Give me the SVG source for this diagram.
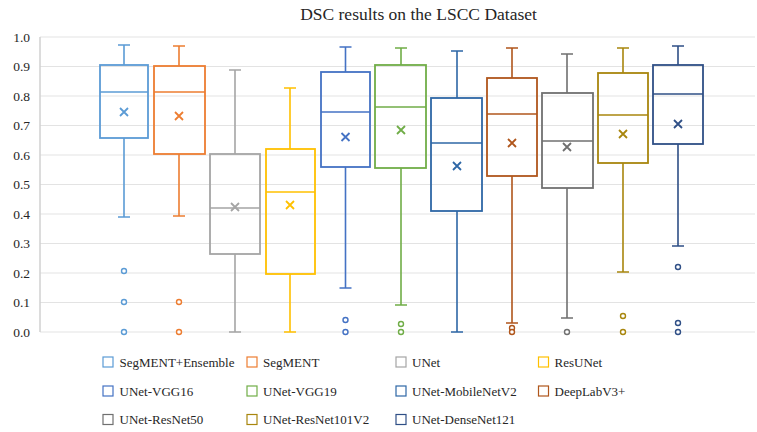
<svg xmlns="http://www.w3.org/2000/svg" width="757" height="432" viewBox="0 0 757 432">
<defs>
<style>
text{font-family:"Liberation Serif","Times New Roman",serif;fill:#262626}
.title{font-size:17.5px;text-anchor:middle}
.ylab{font-size:13.5px;text-anchor:end}
.leg{font-size:13px}
.grid{stroke:#e3e3e3;stroke-width:1.2}
.axis{stroke:#d0d0d0;stroke-width:1.5}
.box{fill:none;stroke-width:1.8}
.ln{fill:none;stroke-width:1.6}
.out{fill:#fff;stroke-width:1.4}
.mk{fill:none;stroke-width:1.8}
.sq{fill:#fff;stroke-width:1.2}
.c1{stroke:#5B9BD5}.c2{stroke:#ED7D31}.c3{stroke:#A5A5A5}.c4{stroke:#FFC000}
.c5{stroke:#4472C4}.c6{stroke:#70AD47}.c7{stroke:#2E67A6}.c8{stroke:#B0561C}
.c9{stroke:#707070}.c10{stroke:#A8860E}.c11{stroke:#2F4F86}
</style>
<path id="x" d="M-4,-4L4,4M-4,4L4,-4"/>
</defs>
<rect width="757" height="432" fill="#fff"/>
<text class="title" x="418.5" y="20">DSC results on the LSCC Dataset</text>
<g id="grid">
<line class="grid" x1="40" y1="37" x2="755" y2="37"/>
<line class="grid" x1="40" y1="66.5" x2="755" y2="66.5"/>
<line class="grid" x1="40" y1="96" x2="755" y2="96"/>
<line class="grid" x1="40" y1="125.5" x2="755" y2="125.5"/>
<line class="grid" x1="40" y1="155" x2="755" y2="155"/>
<line class="grid" x1="40" y1="184.5" x2="755" y2="184.5"/>
<line class="grid" x1="40" y1="214" x2="755" y2="214"/>
<line class="grid" x1="40" y1="243.5" x2="755" y2="243.5"/>
<line class="grid" x1="40" y1="273" x2="755" y2="273"/>
<line class="grid" x1="40" y1="302.5" x2="755" y2="302.5"/>
<line class="grid" x1="40" y1="332" x2="755" y2="332"/>
<line class="axis" x1="40" y1="37" x2="40" y2="332"/>
</g>
<g id="yaxis">
<text class="ylab" x="30" y="41.5">1.0</text>
<text class="ylab" x="30" y="71">0.9</text>
<text class="ylab" x="30" y="100.5">0.8</text>
<text class="ylab" x="30" y="130">0.7</text>
<text class="ylab" x="30" y="159.5">0.6</text>
<text class="ylab" x="30" y="189">0.5</text>
<text class="ylab" x="30" y="218.5">0.4</text>
<text class="ylab" x="30" y="248">0.3</text>
<text class="ylab" x="30" y="277.5">0.2</text>
<text class="ylab" x="30" y="307">0.1</text>
<text class="ylab" x="30" y="336.5">0.0</text>
</g>
<g id="box-segment-ensemble" class="c1">
<path class="ln" d="M124,65V45M118,45H130M124,138V217M118,217H130"/>
<rect class="box" x="100" y="65" width="48" height="73"/>
<line class="ln" x1="100" y1="92" x2="148" y2="92"/>
<use href="#x" class="mk" x="124" y="112"/>
<circle class="out" cx="124" cy="271" r="2.5"/><circle class="out" cx="124" cy="302" r="2.5"/><circle class="out" cx="124" cy="332" r="2.5"/>
</g>
<g id="box-segment" class="c2">
<path class="ln" d="M179,66V46M173,46H185M179,154V216M173,216H185"/>
<rect class="box" x="154" y="66" width="51" height="88"/>
<line class="ln" x1="154" y1="92" x2="205" y2="92"/>
<use href="#x" class="mk" x="179" y="116"/>
<circle class="out" cx="179" cy="302" r="2.5"/><circle class="out" cx="179" cy="332" r="2.5"/>
</g>
<g id="box-unet" class="c3">
<path class="ln" d="M235,154V70M229,70H241M235,254V332M229,332H241"/>
<rect class="box" x="210" y="154" width="50" height="100"/>
<line class="ln" x1="210" y1="208" x2="260" y2="208"/>
<use href="#x" class="mk" x="235" y="207"/>
</g>
<g id="box-resunet" class="c4">
<path class="ln" d="M290,149V88M284,88H296M290,274V332M284,332H296"/>
<rect class="box" x="266" y="149" width="49" height="125"/>
<line class="ln" x1="266" y1="192" x2="315" y2="192"/>
<use href="#x" class="mk" x="290" y="205"/>
</g>
<g id="box-unet-vgg16" class="c5">
<path class="ln" d="M345.5,72V47M339.5,47H351.5M345.5,167V288M339.5,288H351.5"/>
<rect class="box" x="321" y="72" width="49" height="95"/>
<line class="ln" x1="321" y1="112" x2="370" y2="112"/>
<use href="#x" class="mk" x="345.5" y="137"/>
<circle class="out" cx="345.5" cy="320" r="2.5"/><circle class="out" cx="345.5" cy="332" r="2.5"/>
</g>
<g id="box-unet-vgg19" class="c6">
<path class="ln" d="M401,65V48M395,48H407M401,168V305M395,305H407"/>
<rect class="box" x="375" y="65" width="51" height="103"/>
<line class="ln" x1="375" y1="107" x2="426" y2="107"/>
<use href="#x" class="mk" x="401" y="130"/>
<circle class="out" cx="401" cy="324" r="2.5"/><circle class="out" cx="401" cy="332" r="2.5"/>
</g>
<g id="box-unet-mobilenetv2" class="c7">
<path class="ln" d="M457,98V51M451,51H463M457,211V332M451,332H463"/>
<rect class="box" x="431" y="98" width="51" height="113"/>
<line class="ln" x1="431" y1="143" x2="482" y2="143"/>
<use href="#x" class="mk" x="457" y="166"/>
</g>
<g id="box-deeplabv3" class="c8">
<path class="ln" d="M512,78V48M506,48H518M512,176V323M506,323H518"/>
<rect class="box" x="487" y="78" width="50" height="98"/>
<line class="ln" x1="487" y1="114" x2="537" y2="114"/>
<use href="#x" class="mk" x="512" y="143"/>
<circle class="out" cx="512" cy="328" r="2.5"/><circle class="out" cx="512" cy="332" r="2.5"/>
</g>
<g id="box-unet-resnet50" class="c9">
<path class="ln" d="M567,93V54M561,54H573M567,188V318M561,318H573"/>
<rect class="box" x="542" y="93" width="51" height="95"/>
<line class="ln" x1="542" y1="141" x2="593" y2="141"/>
<use href="#x" class="mk" x="567" y="147"/>
<circle class="out" cx="567" cy="332" r="2.5"/>
</g>
<g id="box-unet-resnet101v2" class="c10">
<path class="ln" d="M623,73V48M617,48H629M623,163V272M617,272H629"/>
<rect class="box" x="598" y="73" width="50" height="90"/>
<line class="ln" x1="598" y1="115" x2="648" y2="115"/>
<use href="#x" class="mk" x="623" y="134"/>
<circle class="out" cx="623" cy="316" r="2.5"/><circle class="out" cx="623" cy="332" r="2.5"/>
</g>
<g id="box-unet-densenet121" class="c11">
<path class="ln" d="M678,65V46M672,46H684M678,144V246M672,246H684"/>
<rect class="box" x="653" y="65" width="50" height="79"/>
<line class="ln" x1="653" y1="94" x2="703" y2="94"/>
<use href="#x" class="mk" x="678" y="124"/>
<circle class="out" cx="678" cy="267" r="2.5"/><circle class="out" cx="678" cy="323" r="2.5"/><circle class="out" cx="678" cy="332" r="2.5"/>
</g>
<g id="legend">
<rect class="sq c1" x="103" y="357" width="10" height="10"/><text class="leg" x="119.5" y="366.5">SegMENT+Ensemble</text>
<rect class="sq c2" x="247" y="357" width="10" height="10"/><text class="leg" x="263" y="366.5">SegMENT</text>
<rect class="sq c3" x="396" y="357" width="10" height="10"/><text class="leg" x="412" y="366.5">UNet</text>
<rect class="sq c4" x="538.5" y="357" width="10" height="10"/><text class="leg" x="554.5" y="366.5">ResUNet</text>
<rect class="sq c5" x="103" y="386" width="10" height="10"/><text class="leg" x="119.5" y="395.5">UNet-VGG16</text>
<rect class="sq c6" x="247" y="386" width="10" height="10"/><text class="leg" x="263" y="395.5">UNet-VGG19</text>
<rect class="sq c7" x="396" y="386" width="10" height="10"/><text class="leg" x="412" y="395.5">UNet-MobileNetV2</text>
<rect class="sq c8" x="538.5" y="386" width="10" height="10"/><text class="leg" x="554.5" y="395.5">DeepLabV3+</text>
<rect class="sq c9" x="103" y="414.5" width="10" height="10"/><text class="leg" x="119.5" y="424">UNet-ResNet50</text>
<rect class="sq c10" x="247" y="414.5" width="10" height="10"/><text class="leg" x="263" y="424">UNet-ResNet101V2</text>
<rect class="sq c11" x="396" y="414.5" width="10" height="10"/><text class="leg" x="412" y="424">UNet-DenseNet121</text>
</g>
</svg>
